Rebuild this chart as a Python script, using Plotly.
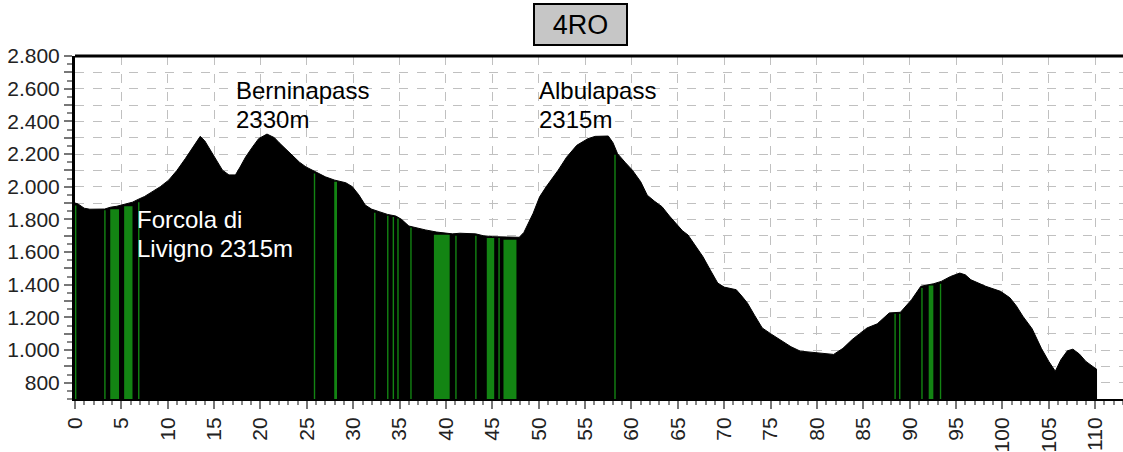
import plotly.graph_objects as go

# ---- data ----
profile_km = [0.0, 0.3, 1.0, 1.6, 3.2, 3.8, 4.5, 5.4, 6.2, 6.8, 7.5, 8.3, 9.2, 10.1, 11.0, 11.9, 12.7, 13.5,
              14.0, 14.8, 15.5, 15.9, 16.6, 17.3, 17.8, 18.4, 19.1, 19.8, 20.7, 21.5, 22.0, 22.7, 23.5, 24.2,
              24.9, 26.0, 27.0, 28.0, 29.2, 29.9, 30.6, 31.3, 32.0, 32.8, 33.7, 34.6, 35.2, 36.0, 37.0, 37.8,
              39.0, 40.7, 41.5, 43.2, 44.0, 45.0, 46.5, 47.9, 48.4, 49.4, 50.1, 50.8, 52.1, 53.0, 54.1, 55.3,
              56.1, 57.5, 58.0, 58.5, 59.3, 60.1, 61.0, 61.7, 62.5, 63.3, 64.1, 64.9, 65.5, 66.1, 66.9, 67.7,
              68.5, 69.3, 70.0, 71.3, 71.9, 72.5, 73.3, 74.1, 75.0, 76.2, 77.2, 78.2, 80.2, 81.8, 82.8, 83.8,
              84.6, 85.4, 86.5, 87.8, 89.0, 89.6, 90.2, 91.2, 92.6, 93.4, 94.4, 95.4, 96.0, 96.6, 97.4, 98.2,
              99.8, 100.8, 101.5, 102.2, 103.2, 104.2, 105.0, 105.7, 106.3, 107.0, 107.6, 108.3, 109.0, 109.6,
              110.2]
profile_elev = [1900, 1895, 1868, 1862, 1863, 1874, 1880, 1894, 1905, 1922, 1940, 1968, 2000, 2040, 2100, 2172,
                2240, 2308, 2280, 2202, 2140, 2101, 2072, 2072, 2120, 2182, 2240, 2294, 2322, 2300, 2270, 2233,
                2190, 2150, 2121, 2090, 2060, 2040, 2024, 2000, 1950, 1887, 1862, 1847, 1830, 1820, 1800, 1759,
                1745, 1735, 1722, 1711, 1715, 1711, 1700, 1694, 1692, 1690, 1720, 1837, 1938, 1999, 2101, 2180,
                2253, 2294, 2308, 2310, 2270, 2202, 2150, 2101, 2030, 1948, 1910, 1877, 1820, 1765, 1730, 1704,
                1640, 1572, 1490, 1410, 1385, 1369, 1330, 1288, 1210, 1135, 1100, 1054, 1020, 993, 983, 973,
                1010, 1064, 1100, 1135, 1160, 1227, 1231, 1270, 1308, 1390, 1406, 1420, 1450, 1471, 1460, 1430,
                1410, 1390, 1359, 1320, 1270, 1207, 1130, 1010, 930, 870, 940, 995, 1005, 975, 930, 905, 880]

green_start = [0.0, 3.15, 3.8, 5.3, 6.8, 25.75, 27.95, 32.25, 33.65, 34.25, 34.75, 36.15, 38.7, 41.0,
               43.15, 44.4, 45.65, 46.2, 58.15, 88.35, 88.85, 91.25, 92.05, 93.25]
green_end = [0.15, 3.3, 4.75, 6.2, 6.95, 25.9, 28.25, 32.4, 33.8, 34.4, 34.9, 36.3, 40.4, 41.15,
             43.3, 45.2, 45.8, 47.6, 58.3, 88.5, 89.0, 91.4, 92.55, 93.4]
green_top = [1885, 1855, 1862, 1880, 1905, 2080, 2030, 1840, 1822, 1815, 1805, 1750, 1705, 1700,
             1700, 1685, 1685, 1675, 2195, 1222, 1222, 1380, 1395, 1405]

y_ticks = list(range(800, 2801, 100))
y_labels = [("{:,}".format(v).replace(",", ".") if v % 200 == 0 else "") for v in y_ticks]
x_ticks = list(range(0, 111, 5))
x_labels = [str(v) for v in x_ticks]

title_text = "4RO"
annotations_text = [
    ("Berninapass", 234, 90.5, "black"),
    ("2330m", 234, 119.5, "black"),
    ("Albulapass", 537, 90.5, "black"),
    ("2315m", 537, 119.5, "black"),
    ("Forcola di", 135, 219.5, "white"),
    ("Livigno 2315m", 135, 248.5, "white"),
]

# ---- figure ----
W, H = 1123, 452
L, R, T, B = 75, 0, 56, 53
PW, PH = W - L - R, H - T - B

def px_to_paper(px, py):
    return (px - L) / PW, (H - B - py) / PH

fig = go.Figure()
fig.add_trace(go.Scatter(x=profile_km, y=profile_elev, mode="lines", fill="tozeroy",
                         fillcolor="black", line=dict(color="black", width=1), hoverinfo="skip"))
for s, e, t in zip(green_start, green_end, green_top):
    fig.add_trace(go.Scatter(x=[s, e], y=[t, t], mode="lines", fill="tozeroy",
                             fillcolor="#138413", line=dict(color="rgba(0,0,0,0)", width=0),
                             hoverinfo="skip"))

FONT = "Liberation Sans, Arial, sans-serif"
ann = []
for txt, px, py, col in annotations_text:
    xp, yp = px_to_paper(px, py)
    ann.append(dict(text=txt, x=xp, y=yp, xref="paper", yref="paper", xanchor="left", yanchor="middle",
                    showarrow=False, font=dict(family=FONT, size=24, color=col)))
tx, ty = px_to_paper(580.5, 24.5)
ann.append(dict(text=title_text, x=tx, y=ty, xref="paper", yref="paper", xanchor="center", yanchor="middle",
                showarrow=False, font=dict(family=FONT, size=27, color="black"),
                bgcolor="#c6c6c6", bordercolor="black", borderwidth=2, borderpad=0, width=91, height=39))

fig.update_layout(
    width=W, height=H, margin=dict(l=L, r=R, t=T, b=B, autoexpand=False),
    plot_bgcolor="white", paper_bgcolor="white", showlegend=False,
    annotations=ann,
    shapes=[dict(type="line", xref="paper", yref="paper", x0=0, x1=1, y0=1, y1=1,
                 line=dict(color="black", width=3))],
)
fig.update_xaxes(range=[0, 113], tickvals=x_ticks, ticktext=x_labels, tickangle=-90, automargin=False,
                 tickfont=dict(family=FONT, size=21, color="#222"),
                 ticks="outside", ticklen=8, tickcolor="#777", tickwidth=1.5,
                 minor=dict(dtick=1, ticks="outside", ticklen=4, tickcolor="#888", showgrid=False),
                 showgrid=True, gridcolor="#c0c0c0", griddash="dash", gridwidth=1,
                 showline=True, linecolor="black", linewidth=2, zeroline=False)
fig.update_yaxes(range=[700, 2800], tickvals=y_ticks, ticktext=y_labels, automargin=False,
                 tickfont=dict(family=FONT, size=21, color="#222"),
                 ticks="outside", ticklen=8, tickcolor="#777", tickwidth=1.5,
                 minor=dict(dtick=50, ticks="outside", ticklen=5, tickcolor="#888", showgrid=False),
                 showgrid=True, gridcolor="#c0c0c0", griddash="dash", gridwidth=1,
                 showline=True, linecolor="black", linewidth=3, zeroline=False)

fig.write_html("out.html", config={"displayModeBar": False},
               post_script="document.body.style.margin='0';document.body.style.overflow='hidden';")
